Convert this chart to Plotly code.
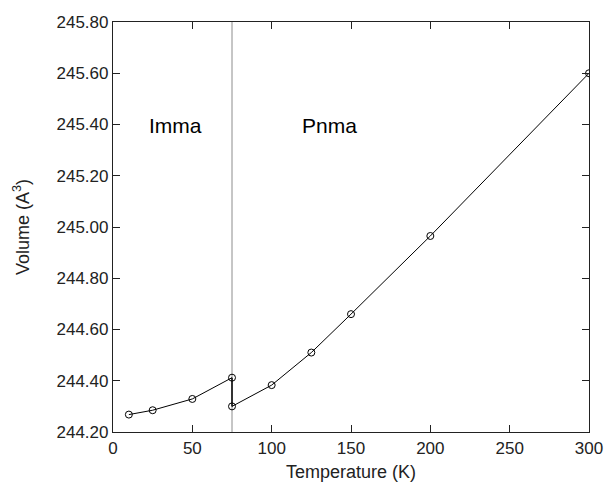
import plotly.graph_objects as go

# Orthorhombic phase volumes vs temperature
imma_T = [10, 25, 50, 75]
imma_V = [244.268, 244.285, 244.329, 244.412]

pnma_T = [75, 100, 125, 150, 200, 300]
pnma_V = [244.300, 244.383, 244.510, 244.660, 244.965, 245.600]

transition_T = 75

x_ticks = [0, 50, 100, 150, 200, 250, 300]
y_ticks = [244.20, 244.40, 244.60, 244.80, 245.00, 245.20, 245.40, 245.60, 245.80]

FONT = "Liberation Sans, Arial, sans-serif"

fig = go.Figure()

# phase boundary
fig.add_shape(type="line", xref="x", yref="paper", layer="below",
              x0=transition_T, x1=transition_T, y0=0, y1=1,
              line=dict(color="#8c8c8c", width=1))

marker = dict(symbol="circle-open", size=7, color="black", line=dict(width=1, color="black"))

fig.add_trace(go.Scatter(x=imma_T, y=imma_V, mode="lines+markers",
                         line=dict(color="black", width=1), marker=marker,
                         showlegend=False))
# jump at the transition
fig.add_trace(go.Scatter(x=[imma_T[-1], pnma_T[0]], y=[imma_V[-1], pnma_V[0]],
                         mode="lines", line=dict(color="black", width=1.5),
                         showlegend=False))
fig.add_trace(go.Scatter(x=pnma_T, y=pnma_V, mode="lines+markers",
                         line=dict(color="black", width=1), marker=marker,
                         showlegend=False))

fig.add_annotation(x=39.7, y=245.398, text="Imma", showarrow=False,
                   font=dict(family=FONT, size=21, color="black"))
fig.add_annotation(x=136.7, y=245.398, text="Pnma", showarrow=False,
                   font=dict(family=FONT, size=21, color="black"))

axis_common = dict(showgrid=False, zeroline=False, showline=True, mirror="ticks",
                   linecolor="#222", linewidth=1.2, ticks="inside", ticklen=7,
                   tickcolor="#222", tickwidth=1, automargin=False,
                   tickfont=dict(family=FONT, size=17, color="#222"))

fig.update_xaxes(range=[0, 300], tickvals=x_ticks,
                 ticktext=[str(v) for v in x_ticks],
                 title=dict(text="Temperature (K)", font=dict(family=FONT, size=18, color="#222"),
                            standoff=8),
                 **axis_common)
fig.update_yaxes(range=[244.20, 245.80], tickvals=y_ticks,
                 ticktext=[f"{v:.2f}" for v in y_ticks],
                 title=dict(text="Volume (A<sup>3</sup>)", font=dict(family=FONT, size=18, color="#222"),
                            standoff=22),
                 **axis_common)

fig.update_layout(width=605, height=490, plot_bgcolor="white", paper_bgcolor="white",
                  margin=dict(l=113, r=16, t=22, b=58))

fig.write_html("out.html")
